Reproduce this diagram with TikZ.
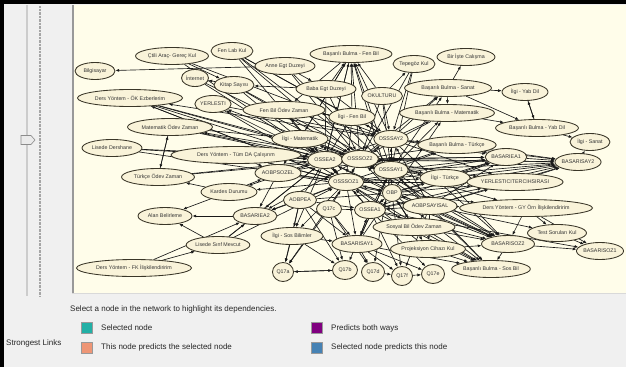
\documentclass[tikz,border=0pt]{standalone}
\usepackage{fontspec}
\setmainfont{Liberation Sans}
\usetikzlibrary{shapes.geometric,arrows.meta}
\pgfdeclarelayer{back}
\pgfdeclarelayer{bg}
\pgfsetlayers{back,bg,main}
\definecolor{panelbg}{HTML}{FFFDEA}
\definecolor{nodefill}{HTML}{F9F3D9}
\definecolor{nodeline}{HTML}{3A3628}
\definecolor{winbg}{HTML}{F0F0F0}
\definecolor{cteal}{HTML}{22B0A6}
\definecolor{csalmon}{HTML}{EE9676}
\definecolor{cpurple}{HTML}{800080}
\definecolor{cblue}{HTML}{4682B4}
\begin{document}
\begin{tikzpicture}[x=1pt,y=-1pt,
  nd/.style={ellipse, draw=nodeline, fill=nodefill, line width=0.85pt, inner sep=0pt,
    minimum height=17pt, text=black!80, font=\fontsize{5.3}{6}\selectfont},
  qn/.style={nd, minimum height=19pt},
  edge/.style={line width=0.65pt, black!90, -{Latex[length=3.8pt,width=3pt]}},
  legsq/.style={draw=black!40, line width=0.3pt, minimum size=11pt, inner sep=0pt},
  legtx/.style={anchor=west, inner sep=0pt, font=\fontsize{8}{9}\selectfont, text=black!85}]
\useasboundingbox (0,0) rectangle (626,367);
\begin{pgfonlayer}{back}
% window background
\fill[winbg] (0,0) rectangle (626,367);
\fill[black] (0,0) rectangle (4,367);
\fill[black] (0,0) rectangle (626,4);
% slider
\fill[black!20] (26,5) rectangle (28,296);
\draw[black!35, line width=1.2pt, dash pattern=on 0.6pt off 0.8pt] (40,6) -- (40,297);
\draw[black!45, fill=black!8, line width=0.6pt] (21,135.5) -- (31,135.5) -- (35,140) -- (31,144.5) -- (21,144.5) -- cycle;
% panel
\fill[panelbg] (72,5) rectangle (626,293);
\draw[black!40, line width=1.5pt] (73,5) -- (73,293);
\draw[black!15, line width=0.6pt] (72,293) -- (626,293);
\end{pgfonlayer}

% nodes
\node[nd, minimum width=40pt] (bil) at (95,71) {Bilgisayar};
\node[nd, minimum width=73pt] (cti) at (172,56) {Çtili Araç- Gereç Kul};
\node[nd, minimum width=42pt] (fen) at (232,51) {Fen Lab Kul};
\node[nd, minimum width=27pt] (int) at (195,78) {İnternet};
\node[nd, minimum width=39pt] (kit) at (234,85) {Kitap Sayısı};
\node[nd, minimum width=60pt] (ann) at (285,66) {Anne Egt Duzeyi};
\node[nd, minimum width=82pt] (bbf) at (351,54) {Başarılı Bulma - Fen Bil};
\node[nd, minimum width=42pt] (tep) at (414,64) {Tepegöz Kul};
\node[nd, minimum width=58pt] (bir) at (466,57) {Bir İşte Calışma};
\node[nd, minimum width=87pt] (bbs) at (448,88) {Başarılı Bulma - Sanat};
\node[nd, minimum width=46pt] (iyd) at (525,92) {İlgi - Yab Dil};
\node[nd, minimum width=95pt] (bbm) at (447,113) {Başarılı Bulma - Matematik};
\node[nd, minimum width=83pt] (byd) at (537,128) {Başarılı Bulma - Yab Dil};
\node[nd, minimum width=105pt] (dok) at (130,98) {Ders Yöntem - ÖK Ezberlerim};
\node[nd, minimum width=32pt] (yer) at (213,104) {YERLESTI};
\node[nd, minimum width=60pt] (bab) at (326,89) {Baba Egt Duzeyi};
\node[nd, minimum width=41pt] (oku) at (382,96) {OKULTURU};
\node[nd, minimum width=82pt] (fbo) at (284,110) {Fen Bil Ödev Zaman};
\node[nd, minimum width=85pt] (mat) at (170,127) {Matematik Ödev Zaman};
\node[nd, minimum width=46pt] (ifb) at (352,117) {İlgi - Fen Bil};
\node[nd, minimum width=56pt] (imt) at (300,139) {İlgi - Matematik};
\node[nd, minimum width=34pt] (osay2) at (391,139) {OSSSAY2};
\node[nd, minimum width=75pt] (bbt) at (457,145) {Başarılı Bulma - Türkçe};
\node[nd, minimum width=60pt] (lde) at (112,148) {Lisede Dershane};
\node[nd, minimum width=130pt] (dtu) at (236,155) {Ders Yöntem - Tüm DA Çalışırım};
\node[nd, minimum width=35pt] (oea2) at (325,160) {OSSEA2};
\node[nd, minimum width=37pt] (osoz2) at (360,159) {OSSSOZ2};
\node[nd, minimum width=34pt] (osay1) at (391,170) {OSSSAY1};
\node[nd, minimum width=34pt] (bea1) at (506,157) {BASARIEA1};
\node[nd, minimum width=40pt] (isa) at (590,142) {İlgi - Sanat};
\node[nd, minimum width=42pt] (bsay2) at (578,162) {BASARISAY2};
\node[nd, minimum width=73pt] (tod) at (158,177) {Türkçe Ödev Zaman};
\node[nd, minimum width=46pt] (asoz) at (278,173) {AOBPSOZEL};
\node[nd, minimum width=50pt] (itr) at (445,178) {İlgi - Türkçe};
\node[nd, minimum width=92pt] (ytr) at (515,182) {YERLESTICITERCIHSIRASI};
\node[nd, minimum width=34pt] (osoz1) at (346,182) {OSSSOZ1};
\node[nd, minimum width=19pt] (obp) at (392,193) {OBP};
\node[nd, minimum width=56pt] (kar) at (229,192) {Kardes Durumu};
\node[nd, minimum width=33pt] (aea) at (300,200) {AOBPEA};
\node[nd, minimum width=25pt] (q17c) at (329,209) {Q17c};
\node[nd, minimum width=31pt] (oea1) at (370,210) {OSSEA1};
\node[nd, minimum width=54pt] (asay) at (430,206) {AOBPSAYISAL};
\node[nd, minimum width=133pt] (dgy) at (526,208) {Ders Yöntem - GY Örn İlişkilendiririm};
\node[nd, minimum width=54pt] (alb) at (165,216) {Alan Belirleme};
\node[nd, minimum width=44pt] (bea2) at (255,216) {BASARIEA2};
\node[nd, minimum width=82pt] (sbo) at (414,227) {Sosyal Bil Ödev Zaman};
\node[nd, minimum width=62pt] (iso) at (292,236) {İlgi - Sos Bilimler};
\node[nd, minimum width=59pt] (tsk) at (557,233) {Test Soruları Kul};
\node[nd, minimum width=50pt] (bsay1) at (357,244) {BASARISAY1};
\node[nd, minimum width=70pt] (pro) at (428,249) {Projeksiyon Cihazı Kul};
\node[nd, minimum width=59pt] (lsm) at (218,245) {Lisede Sınf Mevcut};
\node[nd, minimum width=53pt] (bsoz2) at (508,244) {BASARISOZ2};
\node[nd, minimum width=45pt] (bsoz1) at (600,251) {BASARISOZ1};
\node[nd, minimum width=115pt] (dfk) at (134,268) {Ders Yöntem - FK İlişkilendiririm};
\node[qn, minimum width=21pt] (q17a) at (283,272) {Q17a};
\node[qn, minimum width=25pt] (q17b) at (345,270) {Q17b};
\node[qn, minimum width=23pt] (q17d) at (373,272) {Q17d};
\node[qn, minimum width=21pt] (q17f) at (402,276) {Q17f};
\node[qn, minimum width=23pt] (q17e) at (433,274) {Q17e};
\node[nd, minimum width=78pt] (bss) at (491,269) {Başarılı Bulma - Sos Bil};

% edges
\begin{pgfonlayer}{bg}
\foreach \a/\b in {ann/bil, cti/kit, kit/int, bab/kit, ann/bab, fen/osoz2, fen/osay2, fen/ifb,
  int/osoz2, kit/oea2, kit/osay1, cti/osay2, dok/oea2, dok/osoz2, dok/osay1,
  osoz2/yer, oea2/yer, yer/osay2, osoz2/mat, mat/tod, tod/mat, mat/imt, mat/oea2,
  lde/oea2, lde/osoz1, dtu/oea2, dtu/osoz2, dtu/osay1, dtu/osoz1,
  kar/tod, kar/alb, bea2/alb, lsm/alb, oea2/kar, osoz1/kar, kar/asoz,
  dfk/bea2, dfk/lsm, lsm/bea2, lsm/osoz1, osoz1/bea2, asoz/bea2, oea2/bea2, aea/bea2,
  iso/q17a, aea/q17a, q17b/q17a, q17a/q17b, bsay1/q17b, bsay1/q17d, bsay1/q17f, q17f/q17e,
  q17d/q17f, q17c/q17a, q17c/q17b, obp/q17f, oea1/q17f, osay1/q17d, asay/q17f, oea1/q17e, bsay1/q17e,
  aea/iso, osoz1/iso, oea2/iso,
  sbo/bss, pro/bss, bsoz2/bss, asay/bss, obp/bss, oea1/bss, bsay1/bss,
  dgy/bsoz2, asay/bsoz2, tsk/bsoz1, bsoz2/bsoz1, dgy/tsk, osoz2/bsoz2, osoz1/bsoz2, obp/bsoz2,
  itr/bsoz2, sbo/bsoz2, oea1/bsoz1, asay/tsk,
  iyd/byd, byd/iyd, bbs/byd, bbm/byd, bbs/bir, byd/isa, bsay2/isa,
  osay1/bsay2, osay2/bsay2, bea1/bsay2, obp/bsay2, asay/bsay2, itr/bsay2, bbt/bsay2,
  oea2/bea1, oea1/bea1, osoz2/bea1, osay1/bea1, bbt/bea1,
  osoz1/ytr, oea1/ytr, obp/ytr, osay1/ytr, asay/ytr, itr/ytr,
  oku/tep, tep/osay2, tep/osay1,
  osoz2/bbf, osay2/bbf, oea2/bbf, bab/bbf, oku/bbf, ifb/bbf, imt/bbf, osay1/bbf, obp/bbf,
  osay2/bbs, osoz2/bbs, osay1/bbs, bbs/bbm, osay2/bbm, osay1/bbm, obp/bbm,
  osoz2/bbt, osoz1/bbt, osay1/bbt, osoz2/itr, osoz1/itr, obp/itr,
  ifb/fbo, fbo/osay2, oea2/fbo, osay2/ifb, osay1/ifb, osay1/imt, oea2/imt, osoz2/imt,
  bab/osay2, ann/osay1, asay/dgy, obp/dgy, osay1/dgy,
  osoz1/sbo, obp/sbo, asay/sbo, obp/pro, asay/pro,
  oea2/osoz2, osoz2/oea2, osoz2/osay1, osay1/osoz2, osay1/osay2, osay2/osay1, osoz2/osay2,
  oea2/osay1, osoz1/osoz2, osoz2/osoz1, osoz1/oea2, oea2/osoz1, obp/osoz1, obp/osay1, obp/osoz2,
  obp/oea2, obp/oea1, oea1/obp, oea1/osoz1, oea1/oea2, oea1/osay1, asoz/osoz1, asoz/oea2,
  asoz/osoz2, aea/oea2, aea/osoz1, aea/obp, asay/obp, asay/osay1, asay/osay2, asay/oea1,
  q17c/osoz1, q17c/oea1, bsay1/oea1, bsay1/obp, bsay1/osay1, asoz/obp, aea/oea1, osay2/oea2, asay/osoz2,
  osay2/dok, osoz1/dok, bbf/fbo, bbf/imt, bbf/oea2, fen/oea2, fen/osay1, yer/osoz1,
  mat/osay1, lde/osoz2, dtu/asoz, dtu/obp, osoz1/bea1, osoz2/bsay2, oea2/bsay2, oea1/bsay2,
  osay2/bea1, obp/bea1, asay/bea1, osoz1/bsay2, itr/bea1, ytr/bsay2, osoz2/ytr, osay2/ytr,
  oea2/bsoz2, osay1/bsoz2, oea1/bsoz2, osay1/bss, osoz1/bss, dgy/bsoz1,
  aea/bsay1, osoz1/bsay1, q17c/bsay1, iso/bsay1, oea1/bsay1, tod/oea2, tod/osoz2,
  osoz2/bea2, lsm/oea2, iso/q17b, aea/q17b, osoz1/q17a, q17c/q17d, osay2/bbt, osay1/itr,
  ifb/oea2, ifb/osoz1, imt/osoz1, imt/asoz, tep/osoz2, bab/osoz2, bab/oea2, ann/osoz2,
  oku/osay2, oku/osoz2, oku/osay1, bbm/osoz2, bbs/iyd, pro/bsoz2, pro/osoz1, sbo/obp,
  int/oea2, kit/osoz2, cti/oea2, dok/osoz1, osay2/bsoz2, osay1/bsay1}
  \draw[edge] (\a) -- (\b);
\end{pgfonlayer}

% legend
\node[legtx] (sel) at (70,309) {Select a node in the network to highlight its dependencies.};
\node[legtx] (str) at (6,343) {Strongest Links};
\node[legsq, fill=cteal] (sq1) at (87,327.5) {};
\node[legtx] (t1) at (101,328) {Selected node};
\node[legsq, fill=csalmon] (sq2) at (87,347.5) {};
\node[legtx] (t2) at (101,347) {This node predicts the selected node};
\node[legsq, fill=cpurple] (sq3) at (317,327.5) {};
\node[legtx] (t3) at (331,328) {Predicts both ways};
\node[legsq, fill=cblue] (sq4) at (317,347.5) {};
\node[legtx] (t4) at (331,347) {Selected node predicts this node};
\end{tikzpicture}
\end{document}
